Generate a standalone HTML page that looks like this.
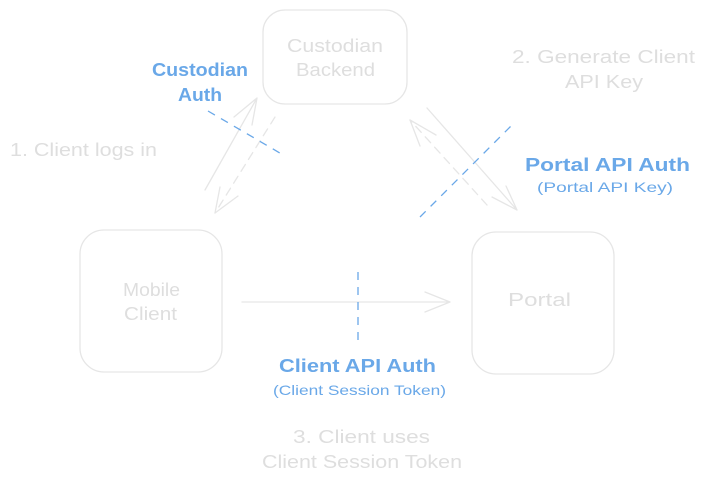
<!DOCTYPE html>
<html><head><meta charset="utf-8">
<style>
html,body{margin:0;padding:0;background:#fff;}
svg{display:block;}
text{font-family:"Liberation Sans",sans-serif;}
</style></head>
<body>
<svg width="706" height="484" viewBox="0 0 706 484" xmlns="http://www.w3.org/2000/svg">
<g fill="none" stroke="#e6e6e6" stroke-width="1.3" stroke-linecap="round">
  <rect x="263" y="10" width="144" height="94" rx="22"/>
  <rect x="80" y="230" width="142" height="142" rx="24"/>
  <rect x="472" y="232" width="142" height="142" rx="24"/>
  <path d="M205 190 L257 98 M257 98 L234 117 M257 98 L252 125"/>
  <path d="M275 117 L215 213" stroke-dasharray="8 6"/>
  <path d="M215 213 L238 196 M215 213 L220 187"/>
  <path d="M427 108 L517 210 M517 210 L492 197 M517 210 L506 186"/>
  <path d="M487 205 L410 120" stroke-dasharray="8 6"/>
  <path d="M410 120 L436 135 M410 120 L420 146"/>
  <path d="M242 302 L450 302 M450 302 L425 292 M450 302 L425 312"/>
</g>
<g fill="none" stroke="#6aa8e8" stroke-width="1.3" stroke-dasharray="8 7">
  <path d="M208 111 L285 156"/>
  <path d="M420 217 L512 125"/>
  <path d="M358 272 L358 345"/>
</g>
<g fill="#dedede" font-size="18" lengthAdjust="spacingAndGlyphs">
  <text x="287" y="52" textLength="96" lengthAdjust="spacingAndGlyphs">Custodian</text>
  <text x="296" y="76" textLength="79" lengthAdjust="spacingAndGlyphs">Backend</text>
  <text x="123" y="296" textLength="57" lengthAdjust="spacingAndGlyphs">Mobile</text>
  <text x="124" y="320" textLength="53" lengthAdjust="spacingAndGlyphs">Client</text>
  <text x="508" y="306" textLength="63" lengthAdjust="spacingAndGlyphs">Portal</text>
  <text x="10" y="156" textLength="147" lengthAdjust="spacingAndGlyphs">1. Client logs in</text>
  <text x="512" y="63" textLength="183" lengthAdjust="spacingAndGlyphs">2. Generate Client</text>
  <text x="565" y="88" textLength="78" lengthAdjust="spacingAndGlyphs">API Key</text>
  <text x="293" y="443" textLength="137" lengthAdjust="spacingAndGlyphs">3. Client uses</text>
  <text x="262" y="468" textLength="200" lengthAdjust="spacingAndGlyphs">Client Session Token</text>
</g>
<g fill="#6aa8e8" font-weight="bold">
  <text x="152" y="76" font-size="18" textLength="96" lengthAdjust="spacingAndGlyphs">Custodian</text>
  <text x="178" y="101" font-size="18" textLength="44" lengthAdjust="spacingAndGlyphs">Auth</text>
  <text x="525" y="171" font-size="18" textLength="165" lengthAdjust="spacingAndGlyphs">Portal API Auth</text>
  <text x="537" y="192" font-size="14" font-weight="normal" textLength="136" lengthAdjust="spacingAndGlyphs">(Portal API Key)</text>
  <text x="279" y="372" font-size="18" textLength="157" lengthAdjust="spacingAndGlyphs">Client API Auth</text>
  <text x="273" y="395" font-size="14" font-weight="normal" textLength="173" lengthAdjust="spacingAndGlyphs">(Client Session Token)</text>
</g>
</svg>
</body></html>
